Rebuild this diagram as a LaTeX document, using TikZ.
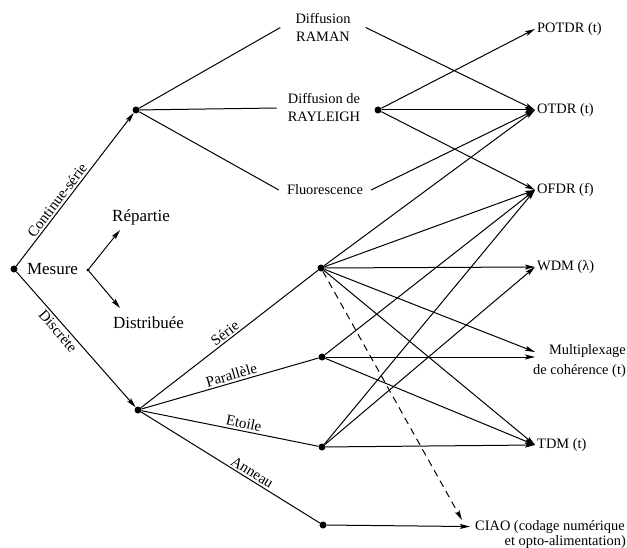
\documentclass[tikz,border=0pt]{standalone}
\usepackage{fontspec}
\setmainfont{Liberation Serif}
\usetikzlibrary{arrows.meta}
\begin{document}
\begin{tikzpicture}[x=1pt,y=-1pt,
  dot/.style={circle,fill,inner sep=0pt,minimum size=7pt},
  sdot/.style={circle,fill,inner sep=0pt,minimum size=3.5pt},
  lab/.style={font=\fontsize{14.4}{18}\selectfont, align=center, inner ysep=0pt},
  big/.style={font=\fontsize{17}{20}\selectfont, inner sep=0pt},
  tgt/.style={font=\fontsize{14.4}{18}\selectfont, inner xsep=2pt, inner ysep=0pt},
  rot/.style={font=\fontsize{15}{18}\selectfont, sloped, inner sep=2pt},
  edge/.style={line width=1pt},
  arr/.style={line width=1pt, -{Stealth[length=10pt,width=5pt,inset=2pt]}},
  dsh/.style={arr, dash pattern=on 7pt off 5pt}
]
\useasboundingbox (0,0) rectangle (627,548);

% left part
\node[dot] (M) at (14,269) {};
\node[big] (mesure) at (52.5,269) {Mesure};
\node[sdot] (m2) at (88,270) {};
\node[big] (rep) at (141,217) {Répartie};
\node[big] (dist) at (148.5,323) {Distribuée};
\coordinate (repin) at (120,230);
\coordinate (distin) at (120,308);

\node[dot] (C) at (136,110) {};
\node[dot] (D) at (138,410) {};

% middle labels
\node[lab, inner xsep=15pt] (raman) at (323,27.5) {Diffusion\\RAMAN};
\node[lab, inner xsep=11pt] (ray) at (324,108) {Diffusion de\\RAYLEIGH};
\node[lab, inner xsep=8pt] (fluo) at (325,190) {Fluorescence};
\node[dot] (R) at (378,110) {};

\node[dot] (S) at (321,268) {};
\node[dot] (P) at (322,357) {};
\node[dot] (E) at (322,447) {};
\node[dot] (A) at (323,525) {};

% targets
\node[tgt, anchor=west] (potdr) at (535,29) {POTDR (t)};
\node[tgt, anchor=west] (otdr) at (535,110) {OTDR (t)};
\node[tgt, anchor=west] (ofdr) at (535,190) {OFDR (f)};
\node[tgt, anchor=west] (wdm) at (535,267) {WDM (λ)};
\node[tgt, anchor=base east, inner sep=0pt] (mult) at (626,355) {Multiplexage};
\node[tgt, anchor=base east, inner sep=0pt] (mult2) at (626,374) {de cohérence (t)};
\coordinate (multin) at (535,352);
\node[tgt, anchor=west] (tdm) at (535,445) {TDM (t)};
\node[tgt, anchor=base west, inner xsep=5pt] (ciao) at (470,530) {CIAO (codage numérique};
\node[tgt, anchor=base east, inner sep=0pt] (ciao2) at (626,545) {et opto-alimentation)};
\coordinate (ciaoin) at (462,520);

% connectors left
\draw[arr] (M) -- node[rot, above, pos=0.4] {Continue-série} (C);
\draw[arr] (M) -- node[rot, below, pos=0.4] {Discrète} (D);
\draw[arr] (m2) -- (repin);
\draw[arr] (m2) -- (distin);

\draw[edge] (C) -- (raman.west);
\draw[edge] (C) -- (ray.west);
\draw[edge] (C) -- (fluo.west);

\draw[edge] (D) -- node[rot, above, pos=0.5] {Série} (S);
\draw[edge] (D) -- node[rot, above, pos=0.52] {Parallèle} (P);
\draw[edge] (D) -- node[rot, above, pos=0.57] {Etoile} (E);
\draw[edge] (D) -- node[rot, above, pos=0.6] {Anneau} (A);

% continuous
\draw[arr] (raman.east) -- (otdr.west);
\draw[arr] (fluo.east) -- (otdr.west);
\draw[arr] (R) -- (potdr.west);
\draw[arr] (R) -- (otdr.west);
\draw[arr] (R) -- (ofdr.west);

% discrete
\draw[arr] (S) -- (otdr.west);
\draw[arr] (S) -- (ofdr.west);
\draw[arr] (S) -- (wdm.west);
\draw[arr] (S) -- (multin);
\draw[arr] (S) -- (tdm.west);
\draw[dsh] (S) -- (ciaoin);

\draw[arr] (P) -- (ofdr.west);
\draw[arr] (P) -- (P -| multin);
\draw[arr] (P) -- (tdm.west);

\draw[arr] (E) -- (ofdr.west);
\draw[arr] (E) -- (wdm.west);
\draw[arr] (E) -- (tdm.west);

\draw[arr] (A) -- (ciao.west);
\end{tikzpicture}
\end{document}
